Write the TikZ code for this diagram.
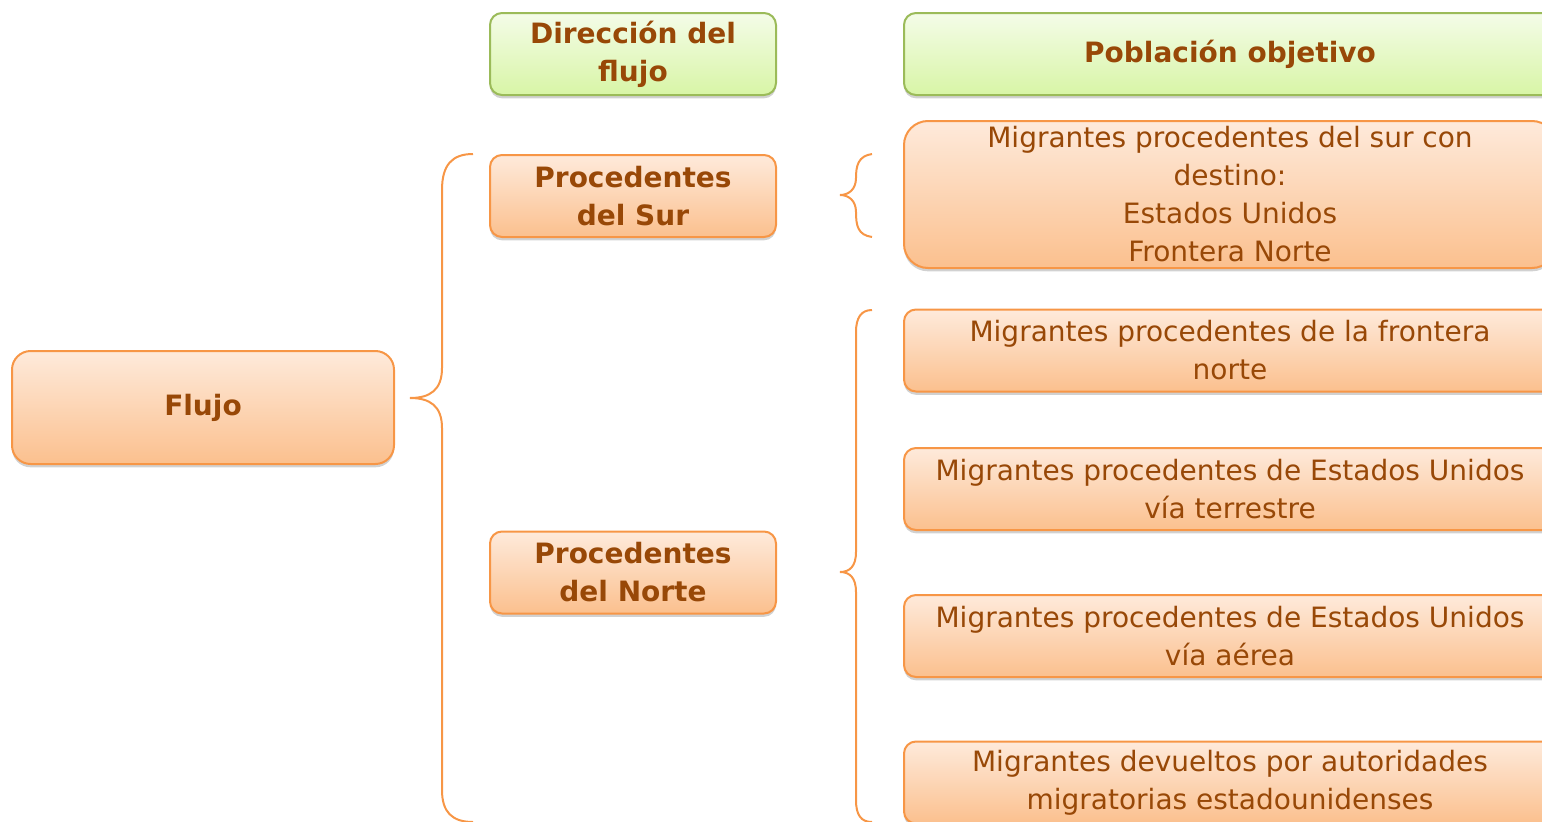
\documentclass[tikz,border=0pt]{standalone}
\usepackage{fontspec}
\setmainfont{DejaVu Sans}
\usetikzlibrary{shadows}

\definecolor{txtbrown}{HTML}{984807}
\definecolor{orline}{HTML}{F79646}
\definecolor{ortop}{HTML}{FEEADB}
\definecolor{orbot}{HTML}{FBC08E}
\definecolor{grline}{HTML}{9BBB59}
\definecolor{grtop}{HTML}{F4FCE8}
\definecolor{grbot}{HTML}{D8F5A6}

\tikzset{
    box/.style={draw=orline, line width=1.5pt, rounded corners=9pt,
        top color=ortop, bottom color=orbot, text=txtbrown, align=center,
        inner sep=0pt, font=\fontsize{21}{28.5}\selectfont,
        drop shadow={shadow xshift=0pt, shadow yshift=-2.5pt, opacity=0.3, fill=black!60}},
    headbox/.style={box, font=\fontsize{21}{28.5}\selectfont\bfseries},
    greenbox/.style={headbox, draw=grline, top color=grtop, bottom color=grbot},
    smallbox/.style={minimum width=214.5pt, minimum height=61.5pt},
    widebox/.style={minimum width=489pt, minimum height=61.5pt},
    brace/.style={draw=orline, line width=1.5pt}
}

\begin{document}
\begin{tikzpicture}[x=0.75pt, y=-0.75pt]
        \clip (0, 0) rectangle (1542, 821);

        \node[greenbox, smallbox] (dir) at (633, 54) {Dirección del\\flujo};
        \node[greenbox, widebox] (pob) at (1230, 54) {Población objetivo};

        \node[headbox, minimum width=286.5pt, minimum height=84.75pt, rounded corners=14pt]
            (flujo) at (203, 407.5) {Flujo};
        \node[headbox, smallbox] (sur) at (633, 196) {Procedentes\\del Sur};
        \node[headbox, smallbox] (norte) at (633, 572.5) {Procedentes\\del Norte};

        \node[box, minimum width=489pt, minimum height=110.25pt, rounded corners=18pt]
            (pobsur) at (1230, 194.5)
            {Migrantes procedentes del sur con\\destino:\\Estados Unidos\\Frontera Norte};
        \node[box, widebox] (front) at (1230, 350.5)
            {Migrantes procedentes de la frontera\\norte};
        \node[box, widebox] (eut) at (1230, 489)
            {Migrantes procedentes de Estados Unidos\\vía terrestre};
        \node[box, widebox] (eua) at (1230, 636)
            {Migrantes procedentes de Estados Unidos\\vía aérea};
        \node[box, widebox] (dev) at (1230, 782.5)
            {Migrantes devueltos por autoridades\\migratorias estadounidenses};

        \draw[brace] (473, 154) .. controls (452, 154) and (442, 165) .. (442, 190)
            -- (442, 368) .. controls (442, 390) and (430, 398) .. (410, 398)
            .. controls (430, 398) and (442, 406) .. (442, 428)
            -- (442, 790) .. controls (442, 812) and (452, 822) .. (473, 822);
        \draw[brace] (872, 154) .. controls (858, 156) and (856, 166) .. (856, 178)
            .. controls (856, 190) and (848, 195) .. (840, 195)
            .. controls (848, 195) and (856, 200) .. (856, 212)
            .. controls (856, 226) and (858, 235) .. (872, 237);
        \draw[brace] (872, 310) .. controls (861, 310) and (856, 318) .. (856, 332)
            -- (856, 552) .. controls (856, 566) and (850, 572) .. (840, 572)
            .. controls (850, 572) and (856, 578) .. (856, 592)
            -- (856, 800) .. controls (856, 815) and (861, 822) .. (872, 822);
    \end{tikzpicture}
\end{document}
